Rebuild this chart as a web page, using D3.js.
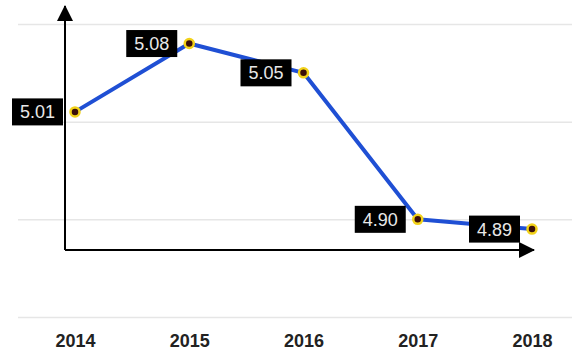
<!DOCTYPE html>
<html>
<head>
<meta charset="utf-8">
<script src="https://cdn.jsdelivr.net/npm/d3@7"></script>
<style>
  body { margin: 0; background: #fff; }
  svg { display: block; font-family: "Liberation Sans", Arial, sans-serif; }
</style>
</head>
<body>
<svg id="chart" width="579" height="354"></svg>
<script>
// data
const years = ["2014", "2015", "2016", "2017", "2018"];
const values = [5.01, 5.08, 5.05, 4.90, 4.89];
const gridTicks = [4.8, 4.9, 5.0, 5.1];

const data = years.map((yr, i) => ({ year: yr, value: values[i] }));

const svg = d3.select("#chart");

// scales
const x = d3.scalePoint()
    .domain(years)
    .range([75, 532]);

const y = d3.scaleLinear()
    .domain([4.8, 5.1])
    .range([317, 24]);

// gridlines
svg.append("g")
    .attr("transform", "translate(18,0)")
    .call(d3.axisLeft(y).tickValues(gridTicks).tickSize(-554).tickFormat(""))
    .call(g => g.select(".domain").remove())
    .call(g => g.selectAll(".tick line").attr("stroke", "#e6e6e6").attr("stroke-width", 1.5));

// year labels
svg.append("g")
    .attr("transform", "translate(0,331)")
    .call(d3.axisBottom(x).tickSize(0))
    .call(g => g.select(".domain").remove())
    .call(g => g.selectAll("text")
        .attr("font-family", "'Liberation Sans', Arial, sans-serif")
        .attr("font-size", 18)
        .attr("font-weight", "bold")
        .attr("fill", "#222"));

// arrow axes (decorative)
const defs = svg.append("defs");
defs.append("marker")
    .attr("id", "arrow")
    .attr("viewBox", "0 0 16 16")
    .attr("refX", 15).attr("refY", 8)
    .attr("markerWidth", 16).attr("markerHeight", 16)
    .attr("markerUnits", "userSpaceOnUse")
    .attr("orient", "auto")
    .append("path")
    .attr("d", "M0,0 L16,8 L0,16 Z")
    .attr("fill", "#000");

const originX = 65, originY = 250;
svg.append("line")
    .attr("x1", originX).attr("y1", originY)
    .attr("x2", originX).attr("y2", 6)
    .attr("stroke", "#000").attr("stroke-width", 2)
    .attr("marker-end", "url(#arrow)");
svg.append("line")
    .attr("x1", originX).attr("y1", originY)
    .attr("x2", 534).attr("y2", originY)
    .attr("stroke", "#000").attr("stroke-width", 2)
    .attr("marker-end", "url(#arrow)");

// line
const line = d3.line()
    .x(d => x(d.year))
    .y(d => y(d.value));

svg.append("path")
    .datum(data)
    .attr("fill", "none")
    .attr("stroke", "#1f4fd4")
    .attr("stroke-width", 4)
    .attr("stroke-linejoin", "round")
    .attr("d", line);

// points
svg.selectAll(".dot")
    .data(data)
    .join("circle")
    .attr("class", "dot")
    .attr("cx", d => x(d.year))
    .attr("cy", d => y(d.value))
    .attr("r", 4.5)
    .attr("fill", "#3b0f08")
    .attr("stroke", "#f2d21a")
    .attr("stroke-width", 2.5);

// value labels
const lw = 51, lh = 27;
const labels = svg.selectAll(".lbl")
    .data(data)
    .join("g")
    .attr("class", "lbl")
    .attr("transform", d => `translate(${x(d.year) - 12 - lw},${y(d.value) - lh / 2})`);

labels.append("rect")
    .attr("width", lw)
    .attr("height", lh)
    .attr("fill", "#000");

labels.append("text")
    .attr("x", lw / 2)
    .attr("y", lh / 2 + 6.5)
    .attr("text-anchor", "middle")
    .attr("font-size", 18)
    .attr("fill", "#e8e8e8")
    .text(d => d.value.toFixed(2));
</script>
</body>
</html>
